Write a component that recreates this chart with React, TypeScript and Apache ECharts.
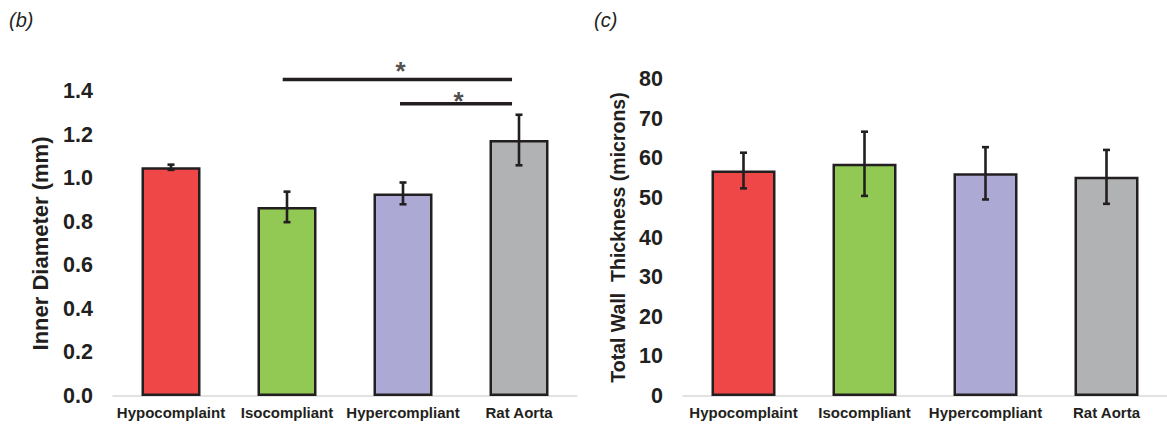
import React, { useEffect, useRef } from "react";
import * as echarts from "echarts";

const categories = ["Hypocomplaint", "Isocompliant", "Hypercompliant", "Rat Aorta"];
const barColors = ["#EF4748", "#92C954", "#ACAAD4", "#B1B2B4"];

const innerDiameter = [1.05, 0.868, 0.93, 1.175];
const innerDiameterErr = [0.012, 0.07, 0.05, 0.116];

const wallThickness = [56.9, 58.6, 56.2, 55.3];
const wallThicknessErr = [4.5, 8.1, 6.6, 6.8];

// significance brackets on left panel: [fromX, toX, y] on hidden value axis aligned to category centers
const sigLines = [
  [0.963, 2.94, 1.453],
  [1.974, 2.94, 1.341],
];
const sigStars = [
  [1.98, 1.518],
  [2.48, 1.382],
];

const INK = "#231F20";
const FONT = "Liberation Sans, Arial, sans-serif";

function errorRender() {
  return (params: any, api: any) => {
    const i = api.value(0);
    const lo = api.coord([i, api.value(1)]);
    const hi = api.coord([i, api.value(2)]);
    const cap = 3.5;
    const style = { stroke: INK, lineWidth: 2.6 };
    return {
      type: "group",
      children: [
        { type: "line", shape: { x1: hi[0], y1: hi[1], x2: lo[0], y2: lo[1] }, style },
        { type: "line", shape: { x1: hi[0] - cap, y1: hi[1], x2: hi[0] + cap, y2: hi[1] }, style },
        { type: "line", shape: { x1: lo[0] - cap, y1: lo[1], x2: lo[0] + cap, y2: lo[1] }, style },
      ],
    };
  };
}

export default function App() {
  const ref = useRef<HTMLDivElement>(null);
  useEffect(() => {
    document.body.style.margin = "0";
    const chart = echarts.init(ref.current!, null, { renderer: "svg" });
    const catAxis = (gridIndex: number) => ({
      type: "category",
      gridIndex,
      data: categories,
      axisLine: { show: true, lineStyle: { color: "#D9D9D9", width: 1.5 } },
      axisTick: { show: false },
      axisLabel: {
        interval: 0,
        fontFamily: FONT,
        fontWeight: "bold",
        fontSize: 15,
        color: INK,
        margin: 9,
      },
    });
    const option: any = {
      animation: false,
      textStyle: { fontFamily: FONT },
      grid: [
        { left: 113, right: 590, top: 91, bottom: 29 },
        { left: 683, right: -10, top: 79, bottom: 29 },
      ],
      xAxis: [
        catAxis(0),
        catAxis(1),
        { type: "value", gridIndex: 0, min: -0.5, max: 3.5, show: false },
      ],
      yAxis: [
        {
          type: "value",
          gridIndex: 0,
          min: 0,
          max: 1.4,
          interval: 0.2,
          splitLine: { show: false },
          axisLine: { show: false },
          axisTick: { show: false },
          axisLabel: {
            formatter: (v: number) => v.toFixed(1),
            fontFamily: FONT,
            fontWeight: "bold",
            fontSize: 21.5,
            color: INK,
            margin: 20,
          },
          name: "Inner Diameter (mm)",
          nameLocation: "middle",
          nameGap: 62,
          nameTextStyle: { fontFamily: FONT, fontWeight: "bold", fontSize: 22, color: INK },
        },
        {
          type: "value",
          gridIndex: 1,
          min: 0,
          max: 80,
          interval: 10,
          splitLine: { show: false },
          axisLine: { show: false },
          axisTick: { show: false },
          axisLabel: {
            fontFamily: FONT,
            fontWeight: "bold",
            fontSize: 21.5,
            color: INK,
            margin: 20,
          },
          name: "Total Wall  Thickness (microns)",
          nameLocation: "middle",
          nameGap: 55,
          nameTextStyle: { fontFamily: FONT, fontWeight: "bold", fontSize: 19.5, color: INK },
        },
      ],
      graphic: [
        {
          type: "text",
          left: 9,
          top: 10,
          style: { text: "(b)", font: "italic 20px " + FONT, fill: INK },
        },
        {
          type: "text",
          left: 594,
          top: 10,
          style: { text: "(c)", font: "italic 20px " + FONT, fill: INK },
        },
      ],
      series: [
        {
          type: "bar",
          xAxisIndex: 0,
          yAxisIndex: 0,
          barWidth: 59,
          data: innerDiameter.map((v, i) => ({ value: v, itemStyle: { color: barColors[i] } })),
          itemStyle: { borderColor: INK, borderWidth: 2.5 },
          z: 2,
        },
        {
          type: "custom",
          xAxisIndex: 0,
          yAxisIndex: 0,
          data: innerDiameter.map((v, i) => [i, v - innerDiameterErr[i], v + innerDiameterErr[i]]),
          renderItem: errorRender(),
          z: 3,
        },
        {
          type: "bar",
          xAxisIndex: 1,
          yAxisIndex: 1,
          barWidth: 64,
          data: wallThickness.map((v, i) => ({ value: v, itemStyle: { color: barColors[i] } })),
          itemStyle: { borderColor: INK, borderWidth: 2.5 },
          z: 2,
        },
        {
          type: "custom",
          xAxisIndex: 1,
          yAxisIndex: 1,
          data: wallThickness.map((v, i) => [i, v - wallThicknessErr[i], v + wallThicknessErr[i]]),
          renderItem: errorRender(),
          z: 3,
        },
        ...sigLines.map((s) => ({
          type: "line",
          xAxisIndex: 2,
          yAxisIndex: 0,
          clip: false,
          symbol: "none",
          lineStyle: { color: INK, width: 3.5 },
          data: [
            [s[0], s[2]],
            [s[1], s[2]],
          ],
          z: 4,
        })),
        {
          type: "scatter",
          xAxisIndex: 2,
          yAxisIndex: 0,
          clip: false,
          symbolSize: 1,
          itemStyle: { color: "rgba(0,0,0,0)" },
          label: {
            show: true,
            position: "inside",
            formatter: "*",
            fontFamily: FONT,
            fontWeight: "bold",
            fontSize: 26,
            color: INK,
            offset: [0, 6],
          },
          data: sigStars,
          z: 4,
        },
      ],
    };
    chart.setOption(option);
    return () => chart.dispose();
  }, []);
  return <div ref={ref} style={{ width: 1167, height: 425 }} />;
}
